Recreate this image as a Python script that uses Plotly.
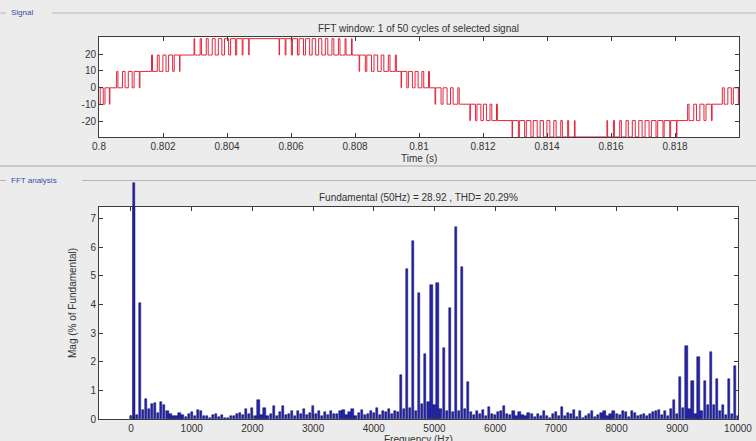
import plotly.graph_objects as go

# ---------------- data ----------------
# Signal: stepped multilevel PWM waveform, one 50 Hz cycle (0.80 s .. 0.82 s)
SEG_START = [0.80000, 0.80047, 0.80156, 0.80288, 0.80563, 0.80813, 0.80944,
             0.81050, 0.81159, 0.81291, 0.81578, 0.81831, 0.81941]
SEG_END = [0.80034, 0.80128, 0.80253, 0.80469, 0.80800, 0.80938, 0.81041,
           0.81134, 0.81253, 0.81497, 0.81806, 0.81916, 0.82000]
SEG_LOW = [-9.7, 0.0, 9.7, 19.4, 19.4, 9.7, 0.0, -9.7, -19.4, -29.1, -29.1, -19.4, -9.7]
SEG_HIGH = [0.0, 9.7, 19.4, 29.1, 29.1, 19.4, 9.7, 0.0, -9.7, -19.4, -19.4, -9.7, 0.0]
SEG_DUTY = [
    [0.55, 0.8],
    [0.2, 0.4, 0.6, 0.8],
    [0.15, 0.3, 0.5, 0.65, 0.85],
    [0.1, 0.2, 0.3, 0.45, 0.55, 0.65, 0.75, 0.85, 0.9],
    [0.9, 0.85, 0.8, 0.7, 0.65, 0.55, 0.5, 0.4, 0.3, 0.25, 0.15, 0.1],
    [0.85, 0.7, 0.55, 0.4, 0.25, 0.15],
    [0.85, 0.65, 0.5, 0.3, 0.15],
    [0.8, 0.6, 0.4, 0.2],
    [0.85, 0.65, 0.5, 0.3, 0.15],
    [0.9, 0.8, 0.7, 0.6, 0.5, 0.45, 0.35, 0.25, 0.15, 0.1],
    [0.1, 0.15, 0.25, 0.35, 0.45, 0.5, 0.6, 0.7, 0.8, 0.85, 0.9],
    [0.2, 0.4, 0.6, 0.8],
    [0.3, 0.55, 0.8],
]
TIME_TICKS = [0.8, 0.802, 0.804, 0.806, 0.808, 0.81, 0.812, 0.814, 0.816, 0.818]
TIME_TICK_TEXT = ["0.8", "0.802", "0.804", "0.806", "0.808", "0.81", "0.812", "0.814", "0.816", "0.818"]
SIG_TICKS = [-20, -10, 0, 10, 20]
SIG_TICK_TEXT = ["-20", "-10", "0", "10", "20"]

# FFT: magnitude (% of fundamental) for harmonic orders 0..200 (50 Hz steps)
FUND_HZ = 50
MAG = [
    0.10, 100.0, 0.15, 4.05, 0.33, 0.70, 0.35, 0.55, 0.58, 0.22,   # 0-450
    0.62, 0.50, 0.28, 0.18, 0.12, 0.10, 0.22, 0.15, 0.08, 0.18,    # 500-950
    0.25, 0.10, 0.32, 0.28, 0.10, 0.12, 0.05, 0.15, 0.20, 0.08,    # 1000-1450
    0.15, 0.06, 0.05, 0.10, 0.12, 0.18, 0.22, 0.15, 0.35, 0.20,    # 1500-1950
    0.40, 0.12, 0.66, 0.15, 0.40, 0.10, 0.20, 0.45, 0.12, 0.25,    # 2000-2450
    0.48, 0.15, 0.20, 0.30, 0.12, 0.28, 0.18, 0.35, 0.15, 0.22,    # 2500-2950
    0.47, 0.18, 0.30, 0.12, 0.25, 0.15, 0.30, 0.18, 0.20, 0.30,    # 3000-3450
    0.32, 0.15, 0.25, 0.35, 0.12, 0.22, 0.32, 0.15, 0.20, 0.30,    # 3500-3950
    0.22, 0.38, 0.15, 0.30, 0.25, 0.35, 0.20, 0.30, 0.25, 1.55,    # 4000-4450
    0.35, 5.24, 0.40, 6.20, 0.30, 4.40, 0.55, 2.27, 0.60, 4.69,    # 4500-4950
    0.50, 4.75, 0.35, 2.48, 0.30, 3.88, 0.25, 6.71, 0.30, 5.31,    # 5000-5450
    0.35, 1.30, 0.25, 0.15, 0.30, 0.18, 0.32, 0.12, 0.42, 0.20,    # 5500-5950
    0.15, 0.25, 0.30, 0.47, 0.20, 0.15, 0.28, 0.12, 0.25, 0.15,    # 6000-6450
    0.10, 0.22, 0.18, 0.08, 0.20, 0.12, 0.30, 0.10, 0.05, 0.20,    # 6500-6950
    0.25, 0.12, 0.42, 0.10, 0.22, 0.20, 0.32, 0.08, 0.30, 0.05,    # 7000-7450
    0.10, 0.18, 0.30, 0.08, 0.15, 0.22, 0.30, 0.12, 0.20, 0.28,    # 7500-7950
    0.20, 0.15, 0.30, 0.25, 0.08, 0.28, 0.22, 0.12, 0.15, 0.20,    # 8000-8450
    0.10, 0.18, 0.25, 0.30, 0.33, 0.15, 0.30, 0.12, 0.35, 0.68,    # 8500-8950
    0.20, 1.49, 0.40, 2.57, 0.35, 1.34, 0.20, 2.17, 0.30, 1.34,    # 9000-9450
    0.50, 2.33, 0.50, 1.41, 0.30, 0.49, 0.15, 1.40, 0.20, 1.86,    # 9500-9950
    0.10,                                                          # 10000
]
FREQ_TICKS = [0, 1000, 2000, 3000, 4000, 5000, 6000, 7000, 8000, 9000, 10000]
FREQ_TICK_TEXT = ["0", "1000", "2000", "3000", "4000", "5000", "6000", "7000", "8000", "9000", "10000"]
MAG_TICKS = [0, 1, 2, 3, 4, 5, 6, 7]
MAG_TICK_TEXT = ["0", "1", "2", "3", "4", "5", "6", "7"]

# ---------------- build signal polyline ----------------
t_pts, v_pts = [], []
n_seg = len(SEG_START)
for i in range(n_seg):
    lo, hi = SEG_LOW[i], SEG_HIGH[i]
    duty = SEG_DUTY[i]
    n = len(duty)
    T = (SEG_END[i] - SEG_START[i]) / n
    for j, d in enumerate(duty):
        p0 = SEG_START[i] + j * T
        c = p0 + T / 2
        w = d * T
        t_pts += [p0, c - w / 2, c + w / 2]
        v_pts += [lo, hi, lo]
    if i < n_seg - 1:
        shared = {lo, hi} & {SEG_LOW[i + 1], SEG_HIGH[i + 1]}
        gap = max(shared, key=abs)
    else:
        gap = hi
    t_pts.append(SEG_END[i])
    v_pts.append(gap)
t_pts.append(0.82)
v_pts.append(v_pts[-1])

freqs = [FUND_HZ * k for k in range(len(MAG))]

# ---------------- geometry ----------------
W, H = 756, 441
def fx(px):
    return px / W
def fy(py):
    return 1 - py / H

TOP_X = [fx(99), fx(739)]
TOP_Y = [fy(137.3), fy(37.3)]
BOT_X = [fx(99), fx(738)]
BOT_Y = [fy(419.3), fy(207)]
YMAX = 7.4
EXT_TOP = 182.5
EXT_RANGE = YMAX * (419.3 - EXT_TOP) / (419.3 - 207)

FONT = "Liberation Sans, Arial, sans-serif"
FRAME = "#3c3c3c"
BG = "#ececec"
TXT = "#333333"

fig = go.Figure()

fig.add_trace(go.Scatter(x=t_pts, y=v_pts, mode="lines", line=dict(color="#e3243c", width=1, shape="hv"),
                         xaxis="x", yaxis="y", showlegend=False, hoverinfo="skip"))

bar_style = dict(marker=dict(color="#2424ac", line=dict(color="#08085e", width=0.5)), width=36)
fig.add_trace(go.Bar(x=freqs, y=MAG, xaxis="x2", yaxis="y2", showlegend=False, **bar_style))
fig.add_trace(go.Bar(x=freqs[1:2], y=MAG[1:2], xaxis="x3", yaxis="y3", showlegend=False, **bar_style))

axis_common = dict(showline=True, linecolor=FRAME, linewidth=1, mirror="ticks", ticks="inside",
                   ticklen=4, tickcolor=FRAME, showgrid=False, zeroline=False, automargin=False,
                   tickfont=dict(family=FONT, size=10, color=TXT))

fig.update_layout(
    width=W, height=H, margin=dict(l=0, r=0, t=0, b=0, pad=0, autoexpand=False),
    paper_bgcolor=BG, plot_bgcolor="rgba(0,0,0,0)",
    bargap=0, barmode="overlay",
    xaxis=dict(domain=TOP_X, anchor="y", range=[0.8, 0.82], tickmode="array",
               tickvals=TIME_TICKS, ticktext=TIME_TICK_TEXT, **axis_common),
    yaxis=dict(domain=TOP_Y, anchor="x", range=[-29.3, 29.9], tickmode="array",
               tickvals=SIG_TICKS, ticktext=SIG_TICK_TEXT, **axis_common),
    xaxis2=dict(domain=BOT_X, anchor="y2", range=[-527, 10000], tickmode="array",
                tickvals=FREQ_TICKS, ticktext=FREQ_TICK_TEXT, **axis_common),
    yaxis2=dict(domain=BOT_Y, anchor="x2", range=[0, YMAX], tickmode="array",
                tickvals=MAG_TICKS, ticktext=MAG_TICK_TEXT, **axis_common),
    xaxis3=dict(domain=BOT_X, anchor="y3", range=[-527, 10000], visible=False, automargin=False),
    yaxis3=dict(domain=[fy(419.3), fy(EXT_TOP)], anchor="x3", range=[0, EXT_RANGE], visible=False,
                automargin=False),
)

shapes = []
# white plot backgrounds
for xr, yr in (("x", "y"), ("x2", "y2")):
    shapes.append(dict(type="rect", xref=xr + " domain", yref=yr + " domain", x0=0, x1=1, y0=0, y1=1,
                       fillcolor="white", line=dict(width=0), layer="below"))
# panel decorations
for y, x0, x1, col in ((13, 0, 6, "#b8b8b8"), (13, 52, 756, "#b8b8b8"),
                       (166, 0, 756, "#a8a8a8"),
                       (180.5, 0, 6, "#b8b8b8"), (180.5, 82, 756, "#b8b8b8")):
    shapes.append(dict(type="line", xref="paper", yref="paper", x0=fx(x0), x1=fx(x1), y0=fy(y), y1=fy(y),
                       line=dict(color=col, width=1), layer="below"))
fig.update_layout(shapes=shapes)

ann = [
    dict(text="Signal", x=fx(9), y=fy(13), xanchor="left", yanchor="middle", size=8, color="#3050a8"),
    dict(text="FFT analysis", x=fx(9), y=fy(180.5), xanchor="left", yanchor="middle", size=8, color="#3050a8"),
    dict(text="FFT window: 1 of 50 cycles of selected signal", x=fx(419), y=fy(28), xanchor="center",
         yanchor="middle", size=10, color=TXT),
    dict(text="Time (s)", x=fx(419), y=fy(158), xanchor="center", yanchor="middle", size=10, color=TXT),
    dict(text="Fundamental (50Hz) = 28.92 , THD= 20.29%", x=fx(419), y=fy(197.5), xanchor="center",
         yanchor="middle", size=10, color=TXT),
    dict(text="Frequency (Hz)", x=fx(419), y=fy(432), xanchor="center", yanchor="top", size=10, color=TXT),
]
annotations = []
for a in ann:
    annotations.append(dict(text=a["text"], x=a["x"], y=a["y"], xref="paper", yref="paper",
                            xanchor=a["xanchor"], yanchor=a["yanchor"], showarrow=False,
                            font=dict(family=FONT, size=a["size"], color=a["color"])))
annotations.append(dict(text="Mag (% of Fundamental)", x=fx(72), y=fy(303), xref="paper", yref="paper",
                        textangle=-90, showarrow=False, xanchor="center", yanchor="middle",
                        font=dict(family=FONT, size=10, color=TXT)))
fig.update_layout(annotations=annotations)

fig.write_html("out.html", config={"displayModeBar": False},
               post_script="document.body.style.margin='0px';document.body.style.overflow='hidden';")
